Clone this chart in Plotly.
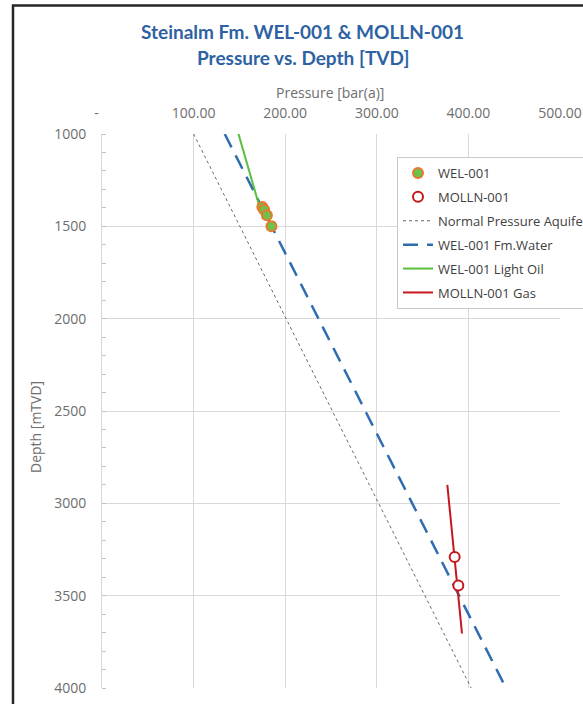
import plotly.graph_objects as go

# ---- data ----
wel_pressure = [175, 177, 180, 185]
wel_depth = [1395, 1410, 1440, 1500]

molln_pressure = [385, 389]
molln_depth = [3290, 3445]

aquifer_pressure = [100, 403]
aquifer_depth = [1000, 4000]

fmwater_pressure = [134, 441]
fmwater_depth = [1000, 4000]

lightoil_pressure = [149, 172]
lightoil_depth = [1000, 1395]

gas_pressure = [377, 393]
gas_depth = [2900, 3705]

x_tickvals = [0, 100, 200, 300, 400, 500]
x_ticktext = ["-   ", "100.00", "200.00", "300.00", "400.00", "500.00"]
y_tickvals = [1000, 1500, 2000, 2500, 3000, 3500, 4000]

TICKFONT = "Open Sans"
TITLEFONT = "Lato"
GRAY = "#6E6E6E"

fig = go.Figure()

fig.add_trace(go.Scatter(
    x=aquifer_pressure, y=aquifer_depth, mode="lines", name="Normal Pressure Aquifer",
    legendrank=3, legendgroup="c",
    line=dict(color="#6b6b6b", width=1, dash="dot")))
fig.add_trace(go.Scatter(
    x=fmwater_pressure, y=fmwater_depth, mode="lines", name="WEL-001 Fm.Water",
    legendrank=4, legendgroup="d",
    line=dict(color="#2F6DB0", width=2.5, dash="15px,9px")))
fig.add_trace(go.Scatter(
    x=lightoil_pressure, y=lightoil_depth, mode="lines", name="WEL-001 Light Oil",
    legendrank=5, legendgroup="e",
    line=dict(color="#5BBE3C", width=2)))
fig.add_trace(go.Scatter(
    x=gas_pressure, y=gas_depth, mode="lines", name="MOLLN-001 Gas",
    legendrank=6, legendgroup="f",
    line=dict(color="#C8161D", width=2)))
fig.add_trace(go.Scatter(
    x=wel_pressure, y=wel_depth, mode="markers", name="WEL-001",
    legendrank=1, legendgroup="a",
    marker=dict(symbol="circle", size=10, color="#70C04A",
                line=dict(color="#E8782E", width=2))))
fig.add_trace(go.Scatter(
    x=molln_pressure, y=molln_depth, mode="markers", name="MOLLN-001",
    legendrank=2, legendgroup="b",
    marker=dict(symbol="circle", size=10, color="#FFFFFF",
                line=dict(color="#C8161D", width=2))))

L, R, T, B = 102, 23, 134, 16
PW = 583 - L - R
PH = 704 - T - B


def py(ypx):
    return (704 - B - ypx) / PH


def px(xpx):
    return (xpx - L) / PW


annotations = [
    dict(text="<b>Steinalm Fm. WEL-001 & MOLLN-001</b>", x=px(302), y=py(31),
         font=dict(family=TITLEFONT, size=19, color="#2E62A3")),
    dict(text="<b>Pressure vs. Depth [TVD]</b>", x=px(303), y=py(57),
         font=dict(family=TITLEFONT, size=19, color="#2E62A3")),
    dict(text="Pressure [bar(a)]", x=px(330), y=py(92),
         font=dict(family=TICKFONT, size=14, color=GRAY)),
    dict(text="Depth [mTVD]", x=px(35), y=py(427), textangle=-90,
         font=dict(family=TICKFONT, size=14, color=GRAY)),
]
for a in annotations:
    a.update(xref="paper", yref="paper", xanchor="center", yanchor="middle",
             showarrow=False)

fig.update_layout(
    width=583, height=704,
    margin=dict(l=L, r=R, t=T, b=B, autoexpand=False),
    paper_bgcolor="white", plot_bgcolor="white",
    font=dict(family=TICKFONT, color=GRAY, size=14),
    xaxis=dict(
        side="top", range=[0, 500], tickvals=x_tickvals, ticktext=x_ticktext,
        showgrid=True, gridcolor="#D9D9D9", gridwidth=1, automargin=False,
        zeroline=False, showline=False, ticks="", ticklabelstandoff=12,
        tickfont=dict(family=TICKFONT, size=14, color=GRAY)),
    yaxis=dict(
        range=[4000, 1000], tickvals=y_tickvals, automargin=False,
        showgrid=True, gridcolor="#D9D9D9", gridwidth=1,
        zeroline=False, showline=True, linecolor="#D9D9D9", linewidth=1,
        ticks="", ticklabelstandoff=12,
        tickfont=dict(family=TICKFONT, size=14, color=GRAY),
        minor=dict(ticks="inside", dtick=100, ticklen=4, tickcolor="#BFBFBF", showgrid=False)),
    legend=dict(
        x=px(397), y=py(157), xanchor="left", yanchor="top",
        bgcolor="white", bordercolor="#C8C8C8", borderwidth=1,
        font=dict(family=TICKFONT, size=13, color="#404040"),
        tracegroupgap=4, itemwidth=30),
    showlegend=True,
    annotations=annotations,
    shapes=[dict(type="rect", xref="paper", yref="paper",
                 x0=px(13), x1=px(640), y0=py(760), y1=py(5.5),
                 line=dict(color="#262626", width=2.5), fillcolor="rgba(0,0,0,0)",
                 layer="below")],
)

fig.write_html(
    "out.html",
    config={"displayModeBar": False},
    post_script="document.body.style.margin='0';document.body.style.overflow='hidden';",
)
